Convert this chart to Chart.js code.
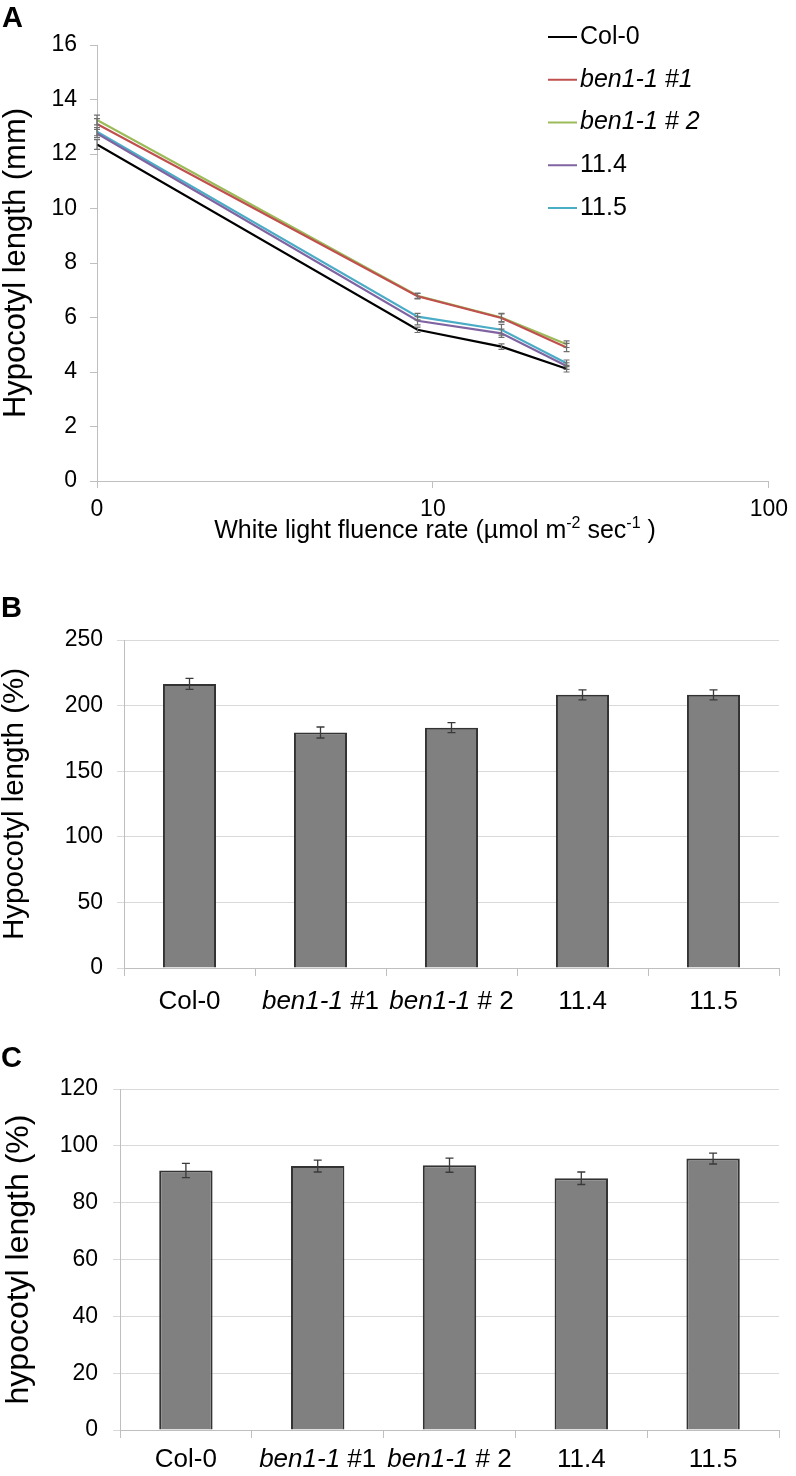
<!DOCTYPE html>
<html>
<head>
<meta charset="utf-8">
<script src="https://cdn.jsdelivr.net/npm/chart.js@4.4.0/dist/chart.umd.min.js"></script>
<style>
  body { margin: 0; background: #fff; }
  canvas { display: block; }
</style>
</head>
<body>
<canvas id="chartA" width="796" height="558"></canvas>
<canvas id="chartB" width="796" height="477"></canvas>
<canvas id="chartC" width="796" height="441"></canvas>
<script>
// Panel A: hypocotyl length vs white light fluence rate (log axis, dark control shown as "0")
const fluence = [1, 9, 16, 25];
const fluenceTicks = [1, 10, 100];
const fluenceTickLabels = ['0', '10', '100'];
const seriesNames = ['Col-0', 'ben1-1 #1', 'ben1-1 # 2', '11.4', '11.5'];
const seriesColors = ['#000000', '#c0504d', '#9bbb59', '#8064a2', '#4bacc6'];
const lenCol0 = [12.35, 5.55, 4.93, 4.12];
const lenBen1 = [13.1, 6.78, 5.98, 4.9];
const lenBen2 = [13.25, 6.8, 6.0, 5.02];
const len114 = [12.75, 5.88, 5.42, 4.22];
const len115 = [12.82, 6.03, 5.55, 4.32];
const errCol0 = [0.18, 0.1, 0.1, 0.12];
const errBen1 = [0.2, 0.1, 0.15, 0.15];
const errBen2 = [0.18, 0.1, 0.15, 0.12];
const err114 = [0.15, 0.15, 0.15, 0.12];
const err115 = [0.15, 0.12, 0.2, 0.12];

// Panels B and C
const genotypes = ['Col-0', 'ben1-1 #1', 'ben1-1 # 2', '11.4', '11.5'];
const pctB = [216.5, 179.5, 183.2, 208.2, 208.2];
const errB = [4.2, 4.2, 3.8, 3.8, 3.8];
const pctC = [91.3, 92.9, 93.2, 88.6, 95.5];
const errC = [2.5, 2.1, 2.5, 2.2, 1.9];

const fontFamily = '"Liberation Sans", Arial, Helvetica, sans-serif';
Chart.defaults.font.family = fontFamily;
Chart.defaults.color = '#000';

function fixWidth(w) { return s => { s.width = w; }; }
function fixHeight(h) { return s => { s.height = h; }; }

function splitItalic(label, allItalic) {
    if (label.startsWith('ben1-1')) {
        if (allItalic) return [{ t: label, it: true }];
        return [{ t: 'ben1-1', it: true }, { t: label.slice(6), it: false }];
    }
    return [{ t: label, it: false }];
}

const panelLetter = {
    id: 'panelLetter',
    afterDraw(chart, args, opts) {
        const ctx = chart.ctx;
        ctx.save();
        ctx.font = 'bold 29px ' + fontFamily;
        ctx.fillStyle = '#000';
        ctx.textBaseline = 'alphabetic';
        ctx.fillText(opts.text, opts.x, opts.y);
        ctx.restore();
    }
};

const errorBars = {
    id: 'errorBars',
    afterDatasetsDraw(chart, args, opts) {
        const ctx = chart.ctx;
        const yScale = chart.scales.y;
        ctx.save();
        ctx.strokeStyle = opts.color;
        ctx.lineWidth = opts.width;
        chart.data.datasets.forEach((ds, i) => {
            const meta = chart.getDatasetMeta(i);
            meta.data.forEach((el, j) => {
                const raw = ds.data[j];
                const v = typeof raw === 'object' ? raw.y : raw;
                const e = opts.errors[i][j];
                const top = yScale.getPixelForValue(v + e);
                const bot = yScale.getPixelForValue(v - e);
                const x = el.x;
                const c = opts.cap / 2;
                ctx.beginPath();
                ctx.moveTo(x, top); ctx.lineTo(x, bot);
                ctx.moveTo(x - c, top); ctx.lineTo(x + c, top);
                ctx.moveTo(x - c, bot); ctx.lineTo(x + c, bot);
                ctx.stroke();
            });
        });
        ctx.restore();
    }
};

const mixedLabels = {
    id: 'mixedLabels',
    afterDraw(chart, args, opts) {
        const ctx = chart.ctx;
        const xs = chart.scales.x;
        ctx.save();
        ctx.fillStyle = '#000';
        ctx.textBaseline = 'middle';
        chart.data.labels.forEach((lab, i) => {
            const parts = splitItalic(lab, false);
            let total = 0;
            parts.forEach(p => {
                ctx.font = (p.it ? 'italic ' : '') + opts.size + 'px ' + fontFamily;
                p.w = ctx.measureText(p.t).width;
                total += p.w;
            });
            let x = xs.getPixelForValue(i) - total / 2;
            parts.forEach(p => {
                ctx.font = (p.it ? 'italic ' : '') + opts.size + 'px ' + fontFamily;
                ctx.fillText(p.t, x, opts.y);
                x += p.w;
            });
        });
        ctx.restore();
    }
};

const sideLegend = {
    id: 'sideLegend',
    afterDraw(chart, args, opts) {
        const ctx = chart.ctx;
        ctx.save();
        ctx.textBaseline = 'middle';
        chart.data.datasets.forEach((ds, i) => {
            const y = opts.y0 + i * opts.step;
            ctx.strokeStyle = ds.borderColor;
            ctx.lineWidth = 2;
            ctx.beginPath();
            ctx.moveTo(opts.x, y);
            ctx.lineTo(opts.x + opts.lineLen, y);
            ctx.stroke();
            const it = ds.label.startsWith('ben1-1');
            ctx.font = (it ? 'italic ' : '') + opts.size + 'px ' + fontFamily;
            ctx.fillStyle = '#000';
            ctx.fillText(ds.label, opts.x + opts.lineLen + 3, y);
        });
        ctx.restore();
    }
};

const fluenceTitle = {
    id: 'fluenceTitle',
    afterDraw(chart, args, opts) {
        const ctx = chart.ctx;
        const pieces = [
            { t: 'White light fluence rate (\u00b5mol m', sup: false },
            { t: '-2', sup: true },
            { t: ' sec', sup: false },
            { t: '-1', sup: true },
            { t: ' )', sup: false }
        ];
        ctx.save();
        ctx.fillStyle = '#000';
        ctx.textBaseline = 'alphabetic';
        let total = 0;
        pieces.forEach(p => {
            ctx.font = (p.sup ? opts.supSize : opts.size) + 'px ' + fontFamily;
            p.w = ctx.measureText(p.t).width;
            total += p.w;
        });
        let x = opts.cx - total / 2;
        pieces.forEach(p => {
            ctx.font = (p.sup ? opts.supSize : opts.size) + 'px ' + fontFamily;
            ctx.fillText(p.t, x, p.sup ? opts.baseline - opts.size * 0.4 : opts.baseline);
            x += p.w;
        });
        ctx.restore();
    }
};

// ---- Panel A ----
const lenSeries = [lenCol0, lenBen1, lenBen2, len114, len115];
const errSeries = [errCol0, errBen1, errBen2, err114, err115];

new Chart(document.getElementById('chartA'), {
    type: 'line',
    data: {
        datasets: seriesNames.map((name, i) => ({
            label: name,
            data: fluence.map((f, j) => ({ x: f, y: lenSeries[i][j] })),
            borderColor: seriesColors[i],
            backgroundColor: seriesColors[i],
            borderWidth: 2.2,
            pointRadius: 0,
            tension: 0
        }))
    },
    options: {
        responsive: false,
        animation: false,
        layout: { padding: { top: 45, right: 21, left: 0, bottom: 0 } },
        plugins: {
            legend: { display: false },
            tooltip: { enabled: false },
            panelLetter: { text: 'A', x: 2, y: 27 },
            errorBars: { errors: errSeries, cap: 6, color: '#6f6f6f', width: 1.2 },
            sideLegend: { x: 548, y0: 37, step: 42.75, lineLen: 29, size: 25 },
            fluenceTitle: { cx: 435, baseline: 538, size: 25, supSize: 16 }
        },
        scales: {
            x: {
                type: 'logarithmic',
                min: 1,
                max: 100,
                afterFit: fixHeight(77),
                afterBuildTicks: s => { s.ticks = fluenceTicks.map(v => ({ value: v })); },
                ticks: {
                    callback: v => fluenceTickLabels[fluenceTicks.indexOf(v)],
                    font: { size: 23 },
                    padding: 8,
                    autoSkip: false,
                    maxRotation: 0
                },
                grid: { drawOnChartArea: false, tickLength: 7, color: '#bfbfbf' },
                border: { color: '#bfbfbf' }
            },
            y: {
                min: 0,
                max: 16,
                afterFit: fixWidth(97),
                ticks: { stepSize: 2, font: { size: 23 }, padding: 13 },
                grid: { drawOnChartArea: false, tickLength: 7, color: '#bfbfbf' },
                border: { color: '#bfbfbf' },
                title: {
                    display: true,
                    text: 'Hypocotyl length (mm)',
                    font: { size: 31, lineHeight: 1 },
                    padding: { top: 1, bottom: 0 }
                }
            }
        }
    },
    plugins: [errorBars, sideLegend, fluenceTitle, panelLetter]
});

// ---- Panels B and C ----
function createBarPanel(canvasId, values, errors, opts) {
    return new Chart(document.getElementById(canvasId), {
        type: 'bar',
        data: {
            labels: genotypes,
            datasets: [{
                data: values,
                backgroundColor: '#808080',
                borderColor: '#333333',
                borderWidth: 2,
                barPercentage: 0.405,
                categoryPercentage: 1
            }]
        },
        options: {
            responsive: false,
            animation: false,
            layout: { padding: { top: opts.top, right: 17, left: 0, bottom: 0 } },
            plugins: {
                legend: { display: false },
                tooltip: { enabled: false },
                panelLetter: { text: opts.letter, x: 1, y: opts.letterY },
                errorBars: { errors: [errors], cap: 8, color: '#3a3a3a', width: 1.3 },
                mixedLabels: { size: 26, y: opts.labelY }
            },
            scales: {
                x: {
                    afterFit: fixHeight(opts.xHeight),
                    ticks: { display: false },
                    grid: { offset: true, drawOnChartArea: false, tickLength: 8, color: '#bfbfbf' },
                    border: { color: '#bfbfbf' }
                },
                y: {
                    min: 0,
                    max: opts.max,
                    afterFit: fixWidth(opts.left),
                    ticks: { stepSize: opts.step, font: { size: opts.tickSize }, padding: opts.tickPad },
                    grid: { color: '#d9d9d9', tickLength: 7 },
                    border: { color: '#bfbfbf' },
                    title: {
                        display: true,
                        text: opts.title,
                        font: { size: opts.titleSize, lineHeight: 1 },
                        padding: { top: opts.titlePad, bottom: 0 }
                    }
                }
            }
        },
        plugins: [errorBars, mixedLabels, panelLetter]
    });
}

createBarPanel('chartB', pctB, errB, {
    letter: 'B', letterY: 59, top: 82, xHeight: 67, left: 124, max: 250, step: 50,
    tickSize: 23, tickPad: 14, title: 'Hypocotyl length (%)', titleSize: 29.5, titlePad: 0, labelY: 444
});

createBarPanel('chartC', pctC, errC, {
    letter: 'C', letterY: 32, top: 54, xHeight: 46, left: 120, max: 120, step: 20,
    tickSize: 23, tickPad: 15, title: 'hypocotyl length (%)', titleSize: 32, titlePad: 3, labelY: 425
});
</script>
</body>
</html>
